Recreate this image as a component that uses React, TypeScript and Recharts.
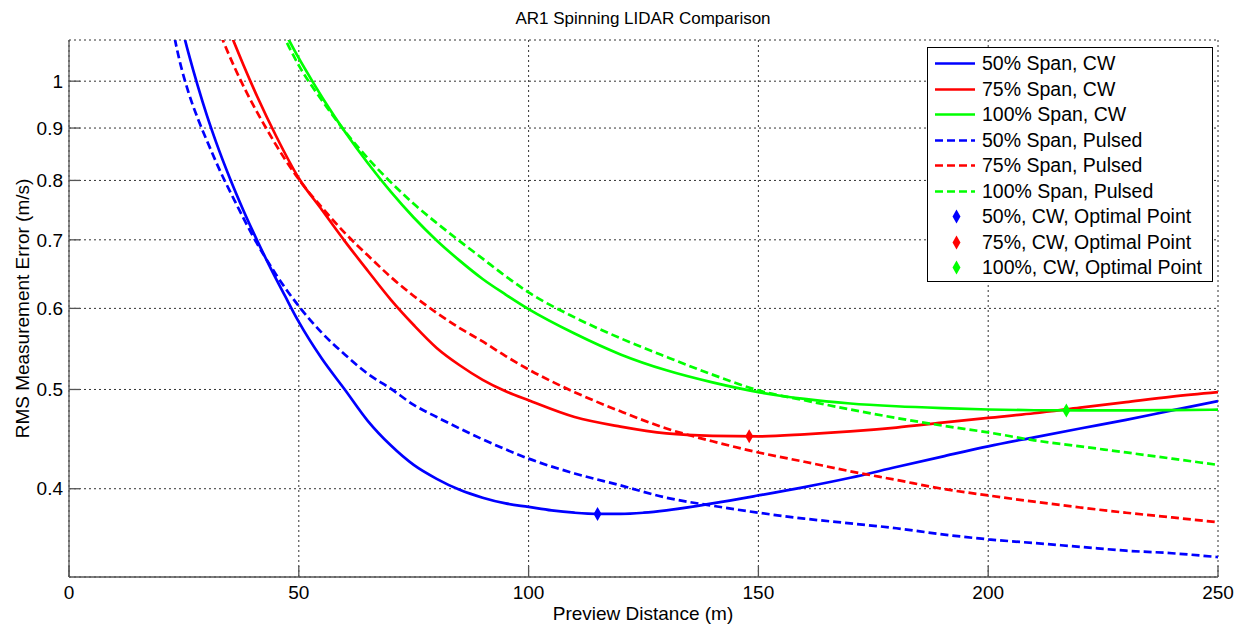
import React from 'react';
import { ComposedChart, Line, Scatter, XAxis, YAxis, CartesianGrid, Legend } from 'recharts';

const FONT = '"Liberation Sans", Arial, Helvetica, sans-serif';

const xTicks = [0, 50, 100, 150, 200, 250];
const yTicks = [0.4, 0.5, 0.6, 0.7, 0.8, 0.9, 1];

// 50% Span, CW
const dist50cw = [24, 26, 28, 30, 32, 35, 38, 41, 44, 47, 50, 55, 60, 65, 70, 75, 80, 85, 90, 95, 100, 105, 110, 115, 120, 125, 130, 140, 150, 160, 170, 180, 190, 200, 210, 220, 230, 240, 250];
const cw50 = [1.154, 1.065, 0.99, 0.926, 0.872, 0.804, 0.747, 0.698, 0.655, 0.617, 0.582, 0.536, 0.5, 0.466, 0.441, 0.422, 0.409, 0.399, 0.392, 0.387, 0.384, 0.381, 0.379, 0.378, 0.378, 0.379, 0.381, 0.387, 0.394, 0.4015, 0.41, 0.42, 0.43, 0.44, 0.449, 0.458, 0.467, 0.477, 0.487];

// 75% Span, CW
const dist75cw = [35, 38, 41, 45, 50, 55, 60, 65, 70, 75, 80, 85, 90, 95, 100, 110, 120, 130, 140, 150, 160, 170, 180, 190, 200, 210, 220, 230, 240, 250];
const cw75 = [1.117, 1.036, 0.965, 0.885, 0.804, 0.749, 0.698, 0.653, 0.612, 0.578, 0.549, 0.528, 0.511, 0.498, 0.488, 0.47, 0.46, 0.453, 0.4505, 0.45, 0.452, 0.455, 0.459, 0.464, 0.469, 0.474, 0.48, 0.486, 0.492, 0.497];

// 100% Span, CW
const dist100cw = [47, 50, 53, 56, 60, 65, 70, 75, 80, 85, 90, 95, 100, 110, 120, 130, 140, 150, 160, 170, 180, 190, 200, 210, 220, 230, 240, 250];
const cw100 = [1.115, 1.053, 0.999, 0.95, 0.893, 0.832, 0.78, 0.736, 0.699, 0.668, 0.641, 0.619, 0.599, 0.567, 0.541, 0.522, 0.508, 0.497, 0.4895, 0.4845, 0.4815, 0.4795, 0.478, 0.4772, 0.477, 0.477, 0.4773, 0.4778];

// 50% Span, Pulsed
const dist50p = [22, 24, 26, 28, 30, 33, 36, 40, 45, 50, 55, 60, 65, 70, 75, 80, 85, 90, 95, 100, 110, 120, 130, 140, 150, 160, 170, 180, 190, 200, 210, 220, 230, 240, 250];
const pulsed50 = [1.16, 1.05, 0.975, 0.92, 0.875, 0.815, 0.765, 0.706, 0.648, 0.603, 0.568, 0.541, 0.518, 0.501, 0.483, 0.47, 0.458, 0.447, 0.437, 0.428, 0.414, 0.403, 0.392, 0.385, 0.379, 0.374, 0.37, 0.366, 0.361, 0.357, 0.354, 0.351, 0.348, 0.346, 0.343];

// 75% Span, Pulsed
const dist75p = [33, 36, 39, 43, 47, 50, 55, 60, 65, 70, 75, 80, 85, 90, 95, 100, 110, 120, 130, 140, 150, 160, 170, 180, 190, 200, 210, 220, 230, 240, 250];
const pulsed75 = [1.109, 1.032, 0.968, 0.898, 0.839, 0.802, 0.753, 0.711, 0.676, 0.644, 0.617, 0.594, 0.574, 0.557, 0.539, 0.523, 0.497, 0.476, 0.458, 0.445, 0.434, 0.425, 0.416, 0.408, 0.4, 0.394, 0.3885, 0.3835, 0.379, 0.375, 0.371];

// 100% Span, Pulsed
const dist100p = [45, 47, 50, 55, 60, 65, 70, 75, 80, 85, 90, 95, 100, 110, 120, 130, 140, 150, 160, 170, 180, 190, 200, 210, 220, 230, 240, 250];
const pulsed100 = [1.143, 1.099, 1.036, 0.958, 0.894, 0.841, 0.797, 0.759, 0.727, 0.698, 0.671, 0.645, 0.622, 0.588, 0.561, 0.538, 0.517, 0.499, 0.488, 0.478, 0.469, 0.461, 0.454, 0.446, 0.44, 0.434, 0.428, 0.422];

// Optimal points (CW)
const optDistance = [115, 148, 217];
const optError = [0.378, 0.45, 0.477];

const BLUE = '#0000ff';
const RED = '#ff0000';
const GREEN = '#00ff00';

const toPts = (xs: number[], ys: number[]) => xs.map((x, i) => ({ x, y: ys[i] }));

const lineSeries = [
  { name: '50% Span, CW', color: BLUE, dashed: false, data: toPts(dist50cw, cw50) },
  { name: '75% Span, CW', color: RED, dashed: false, data: toPts(dist75cw, cw75) },
  { name: '100% Span, CW', color: GREEN, dashed: false, data: toPts(dist100cw, cw100) },
  { name: '50% Span, Pulsed', color: BLUE, dashed: true, data: toPts(dist50p, pulsed50) },
  { name: '75% Span, Pulsed', color: RED, dashed: true, data: toPts(dist75p, pulsed75) },
  { name: '100% Span, Pulsed', color: GREEN, dashed: true, data: toPts(dist100p, pulsed100) },
];

const optNames = ['50%, CW, Optimal Point', '75%, CW, Optimal Point', '100%, CW, Optimal Point'];
const optColors = [BLUE, RED, GREEN];
const optSeries = optDistance.map((x, i) => ({ name: optNames[i], color: optColors[i], data: [{ x, y: optError[i] }] }));

const DASH = '8 4';
const AXIS_COLOR = '#555';
const LINE_W = 2.7;

const Diamond = (props: any) => {
  const { cx, cy, fill } = props;
  if (cx == null || cy == null) return null;
  return <polygon points={`${cx},${cy - 7} ${cx + 4},${cy} ${cx},${cy + 7} ${cx - 4},${cy}`} fill={fill} />;
};

const LegendBox = () => (
  <div
    style={{
      width: 286,
      height: 235,
      border: '1px solid #000',
      background: '#fff',
      boxSizing: 'border-box',
      paddingTop: 3,
      fontFamily: FONT,
      fontSize: 19.5,
      color: '#000',
    }}
  >
    {lineSeries.map((s) => (
      <div key={s.name} style={{ display: 'flex', alignItems: 'center', height: 25.5 }}>
        <svg width={54} height={25} style={{ display: 'block', flex: 'none' }}>
          <line x1={7} x2={47} y1={12.5} y2={12.5} stroke={s.color} strokeWidth={LINE_W} strokeDasharray={s.dashed ? DASH : undefined} />
        </svg>
        <span style={{ whiteSpace: 'nowrap' }}>{s.name}</span>
      </div>
    ))}
    {optSeries.map((s) => (
      <div key={s.name} style={{ display: 'flex', alignItems: 'center', height: 25.5 }}>
        <svg width={54} height={25} style={{ display: 'block', flex: 'none' }}>
          <polygon points="28.5,5.5 32.5,12.5 28.5,19.5 24.5,12.5" fill={s.color} />
        </svg>
        <span style={{ whiteSpace: 'nowrap' }}>{s.name}</span>
      </div>
    ))}
  </div>
);

export default function App() {
  return (
    <div style={{ position: 'absolute', left: 0, top: 0, width: 1245, height: 626, background: '#fff' }}>
      <ComposedChart width={1245} height={626} margin={{ top: 40, right: 27, bottom: 0, left: 0 }}>
        <CartesianGrid stroke="#333" strokeDasharray="2 3" strokeWidth={1} />
        <XAxis
          xAxisId={0}
          type="number"
          dataKey="x"
          domain={[0, 250]}
          ticks={xTicks}
          allowDataOverflow
          height={49}
          stroke={AXIS_COLOR}
          strokeWidth={1.3}
          tickSize={-11}
          tickMargin={20}
          tick={{ fill: '#000', fontSize: 19, fontFamily: FONT }}
        />
        <XAxis
          xAxisId="top"
          orientation="top"
          type="number"
          dataKey="x"
          domain={[0, 250]}
          ticks={xTicks}
          height={0}
          stroke={AXIS_COLOR}
          strokeWidth={1.3}
          tickSize={-11}
          tickFormatter={() => ''}
        />
        <YAxis
          yAxisId={0}
          type="number"
          dataKey="y"
          scale="log"
          domain={[0.328, 1.097]}
          ticks={yTicks}
          allowDataOverflow
          width={69}
          stroke={AXIS_COLOR}
          strokeWidth={1.3}
          tickSize={-11}
          tickMargin={17}
          tick={{ fill: '#000', fontSize: 19, fontFamily: FONT }}
        />
        <YAxis
          yAxisId="right"
          orientation="right"
          type="number"
          scale="log"
          domain={[0.328, 1.097]}
          ticks={yTicks}
          allowDataOverflow
          width={0}
          stroke={AXIS_COLOR}
          strokeWidth={1.3}
          tickSize={-11}
          tickFormatter={() => ''}
        />
        {lineSeries.map((s) => (
          <Line
            key={s.name}
            name={s.name}
            data={s.data}
            dataKey="y"
            type="monotone"
            stroke={s.color}
            strokeWidth={LINE_W}
            strokeDasharray={s.dashed ? DASH : undefined}
            dot={false}
            activeDot={false}
            isAnimationActive={false}
          />
        ))}
        {optSeries.map((s) => (
          <Scatter
            key={s.name}
            name={s.name}
            data={s.data}
            dataKey="y"
            fill={s.color}
            shape={<Diamond />}
            isAnimationActive={false}
          />
        ))}
        <Legend
          layout="vertical"
          align="center"
          verticalAlign="middle"
          wrapperStyle={{ position: 'absolute', left: 927, top: 47, width: 286, height: 235 }}
          content={() => <LegendBox />}
        />
        <text x={643} y={24} textAnchor="middle" fontSize={17} fontFamily={FONT} fill="#000">
          AR1 Spinning LIDAR Comparison
        </text>
        <text x={643} y={620} textAnchor="middle" fontSize={19} fontFamily={FONT} fill="#000">
          Preview Distance (m)
        </text>
        <text
          x={22}
          y={308.5}
          dy="0.35em"
          textAnchor="middle"
          fontSize={19}
          fontFamily={FONT}
          fill="#000"
          transform="rotate(-90, 22, 308.5)"
        >
          RMS Measurement Error (m/s)
        </text>
      </ComposedChart>
    </div>
  );
}
